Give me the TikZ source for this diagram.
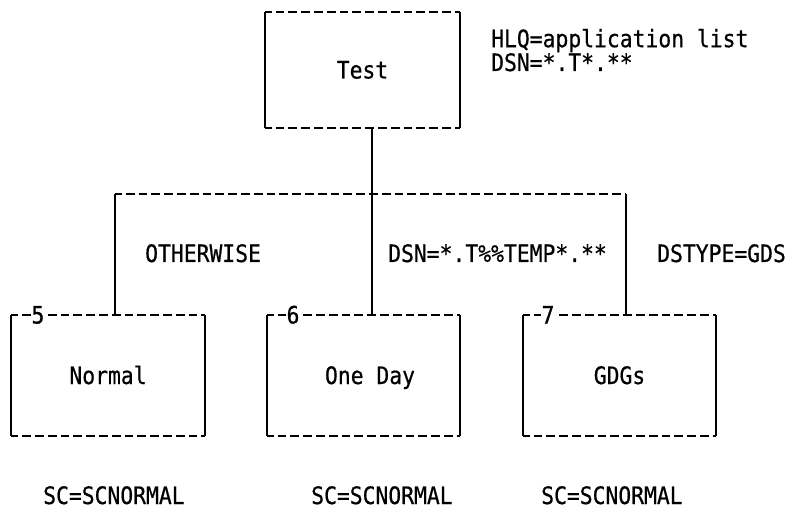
\documentclass[tikz,border=0pt]{standalone}
\usepackage{fontspec}
\setmonofont{DejaVu Sans Mono}[FakeStretch=0.89,FakeBold=0.6]
\begin{document}
\begin{tikzpicture}[x=1pt,y=-1pt,
  font=\ttfamily\fontsize{24}{20}\selectfont,
  hdash/.style={line width=2pt, dash pattern=on 8.8pt off 4pt, dash phase=2pt},
  vline/.style={line width=2pt},
  boxnode/.style={draw=none, inner sep=0pt, text height=17pt, text depth=0pt},
  topbox/.style={boxnode, minimum width=195pt, minimum height=116pt},
  lowbox/.style={boxnode, minimum width=193pt, minimum height=121pt},
  txt/.style={inner sep=0pt, anchor=base west},
  num/.style={fill=white, inner sep=1pt, text height=17pt, text depth=0pt}]
\useasboundingbox (0,0) rectangle (789,510);
% boxes
\node[topbox] (test)   at (362.5,70)  {Test\hspace{22pt}};
\node[lowbox] (normal) at (108,375.5) {Normal};
\node[lowbox] (oneday) at (363.5,375.5) {\hspace{13pt}One Day};
\node[lowbox] (gdgs)   at (619.5,375.5) {GDGs};
\foreach \n in {test,normal,oneday,gdgs}{
  \draw[hdash] (\n.north west) -- (\n.north east);
  \draw[hdash] (\n.south west) -- (\n.south east);
  \draw[vline] (\n.north west) -- (\n.south west);
  \draw[vline] (\n.north east) -- (\n.south east);
}
% connectors
\coordinate (jl) at (115,194);
\coordinate (jm) at (372,194);
\coordinate (jr) at (626,194);
\draw[vline] (test.south -| jm) -- (jm);
\draw[hdash] (jl) -- (jr);
\draw[vline] (jl) -- (normal.north -| jl);
\draw[vline] (jm) -- (oneday.north -| jm);
\draw[vline] (jr) -- (gdgs.north -| jr);
% numbers
\node[num] (n5) at (38,315) {5};
\node[num] (n6) at (293,315) {6};
\node[num] (n7) at (548,315) {7};
% labels
\node[txt, align=left] (hlq) at (491,71) {HLQ=application list\\DSN=*.T*.**};
\node[txt] (other) at (145,262) {OTHERWISE};
\node[txt] (dsntemp) at (388,262) {DSN=*.T\%\%TEMP*.**};
\node[txt] (dstype) at (657,262) {DSTYPE=GDS};
\node[txt] (sc1) at (43,504) {SC=SCNORMAL};
\node[txt] (sc2) at (311,504) {SC=SCNORMAL};
\node[txt] (sc3) at (541,504) {SC=SCNORMAL};
\end{tikzpicture}
\end{document}
